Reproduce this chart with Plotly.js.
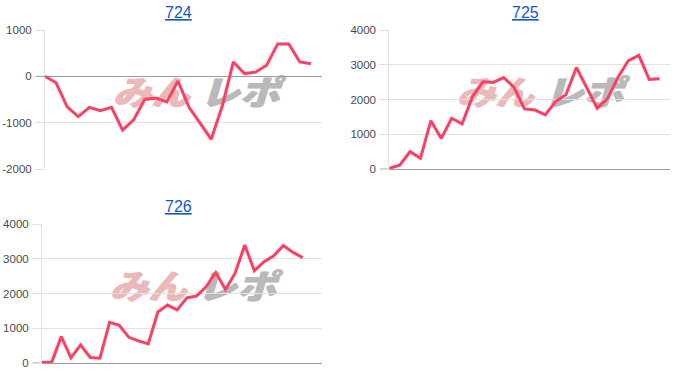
<!DOCTYPE html>
<html>
<head>
<meta charset="utf-8">
<script src="https://cdn.plot.ly/plotly-3.0.1.min.js"></script>
<style>
  html, body { margin: 0; padding: 0; background: #fff; }
  #wrap { position: relative; width: 700px; height: 386px; }
  #chart { position: absolute; left: 0; top: 0; width: 700px; height: 386px; z-index: 2; }
  .logo {
    position: absolute; z-index: 1; white-space: nowrap;
    font-family: "Noto Sans CJK JP", sans-serif; font-weight: 900; font-style: italic;
    font-size: 34px; line-height: 34px; transform-origin: 0 0;
  }
  .logo.a { color: #ebb9b9; text-shadow: 0.6px 0 0 #ebb9b9, -0.6px 0 0 #ebb9b9; }
  .logo.b { color: #b9b9b9; text-shadow: 0.6px 0 0 #b9b9b9, -0.6px 0 0 #b9b9b9; }
</style>
</head>
<body>
<div id="wrap"><div id="chart"></div></div>
<script>
// Machine numbers shown as panel titles
const machines = ['724', '725', '726'];

// Cumulative medal difference per data point for each machine
const diff724 = [0, -140, -660, -870, -670, -740, -670, -1160, -940, -500, -470, -550, -100,
  -670, -1010, -1360, -640, 310, 60, 90, 240, 700, 700, 310, 270];
const diff725 = [20, 110, 500, 310, 1390, 880, 1460, 1300, 2080, 2510, 2490, 2630, 2350,
  1730, 1700, 1560, 1940, 2140, 2920, 2350, 1750, 2030, 2640, 3120, 3270, 2580, 2600];
const diff726 = [20, 20, 760, 150, 520, 160, 140, 1170, 1090, 740, 640, 550, 1470, 1670,
  1530, 1880, 1930, 2200, 2610, 2120, 2590, 3400, 2660, 2920, 3090, 3390, 3190, 3040];

// Upper end of each horizontal axis
const xMax = [25, 27, 29];

// Vertical axis ranges and tick values
const yRanges = [[-2000, 1000], [0, 4000], [0, 4000]];
const yTicks = [[-2000, -1000, 0, 1000], [0, 1000, 2000, 3000, 4000], [0, 1000, 2000, 3000, 4000]];

const series = [diff724, diff725, diff726];
const LINE = '#ff3f62';
const GRID = '#e1e1e1';
const ZERO = '#9e9e9e';
const LABEL = '#4a4a4a';
const FONT = 'Liberation Sans, Arial, sans-serif';

const W = 700, H = 386;
// plot rectangles in pixels: [left, right, top, bottom]
const boxes = [[45, 322, 30, 169], [389.3, 670, 30, 169], [42, 322, 224.3, 363]];

// site logo behind each panel (drawn under the transparent plot)
const wrap = document.getElementById('wrap');
boxes.forEach(b => {
  const parts = [['みん', 'a', 68, 1.13], ['レポ', 'b', 155, 1.17]];
  parts.forEach(([txt, cls, dx, sx]) => {
    const el = document.createElement('div');
    el.className = 'logo ' + cls;
    el.textContent = txt;
    el.style.left = (b[0] + dx) + 'px';
    el.style.top = (b[2] + 44) + 'px';
    el.style.transform = 'scaleX(' + sx + ')';
    wrap.appendChild(el);
  });
});

const traces = series.map((vals, i) => ({
  type: 'scatter',
  mode: 'lines',
  x: vals.map((_, k) => k),
  y: vals,
  xaxis: i === 0 ? 'x' : 'x' + (i + 1),
  yaxis: i === 0 ? 'y' : 'y' + (i + 1),
  line: { color: LINE, width: 3 },
  hoverinfo: 'skip',
  showlegend: false
}));

const layout = {
  width: W, height: H,
  margin: { l: 0, r: 0, t: 0, b: 0 },
  paper_bgcolor: 'rgba(0,0,0,0)',
  plot_bgcolor: 'rgba(0,0,0,0)',
  font: { family: FONT, color: LABEL, size: 11 },
  showlegend: false,
  annotations: [],
  shapes: []
};

boxes.forEach((b, i) => {
  const sx = i === 0 ? '' : String(i + 1);
  layout['xaxis' + sx] = {
    domain: [b[0] / W, b[1] / W],
    range: [0, xMax[i]],
    anchor: 'y' + sx,
    showgrid: false, zeroline: false, showline: false,
    showticklabels: false, ticks: '', fixedrange: true
  };
  layout['yaxis' + sx] = {
    domain: [1 - b[3] / H, 1 - b[2] / H],
    range: yRanges[i],
    anchor: 'x' + sx,
    tickvals: yTicks[i],
    ticktext: yTicks[i].map(String),
    showgrid: true, gridcolor: GRID, gridwidth: 1,
    zeroline: true, zerolinecolor: ZERO, zerolinewidth: 1,
    showline: true, linecolor: GRID, linewidth: 1,
    ticks: 'outside', ticklen: 9, tickcolor: GRID, tickwidth: 1,
    ticklabelstandoff: 1,
    tickfont: { family: FONT, size: 11.5, color: LABEL },
    fixedrange: true
  };

  // darker tick at the zero baseline
  layout.shapes.push({
    type: 'line', xref: 'paper', yref: 'y' + sx,
    x0: (b[0] - 9) / W, x1: b[0] / W, y0: 0, y1: 0,
    line: { color: ZERO, width: 1 }
  });

  // panel title (machine number, underlined link style)
  layout.annotations.push({
    xref: 'paper', yref: 'paper',
    x: [178, 525.6, 178][i] / W,
    y: 1 - [12, 12, 206][i] / H,
    xanchor: 'center', yanchor: 'middle',
    showarrow: false,
    text: '<span style="text-decoration:underline">' + machines[i] + '</span>',
    font: { family: FONT, size: 16, color: '#1155cc' }
  });
});

Plotly.newPlot('chart', traces, layout, { displayModeBar: false, staticPlot: true });
</script>
</body>
</html>
